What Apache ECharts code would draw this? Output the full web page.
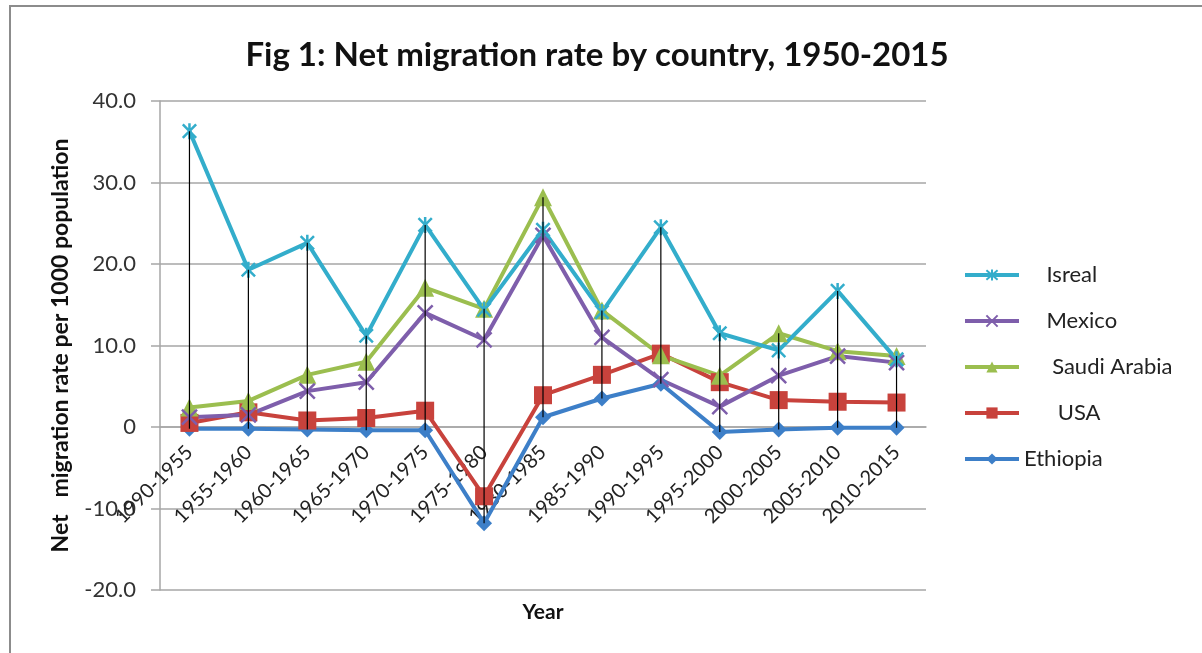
<!DOCTYPE html>
<html>
<head>
<meta charset="utf-8">
<script src="https://cdn.jsdelivr.net/npm/echarts@6/dist/echarts.min.js"></script>
<style>
  html, body { margin: 0; padding: 0; background: #fff; }
  #chart { width: 1202px; height: 653px; }
</style>
</head>
<body>
<div id="chart"></div>
<script>
// Five-year periods (the first label is kept as printed)
const periods = ['1990-1955', '1955-1960', '1960-1965', '1965-1970', '1970-1975', '1975-1980',
  '1980-1985', '1985-1990', '1990-1995', '1995-2000', '2000-2005', '2005-2010', '2010-2015'];

// Net migration rate per 1000 population
const isreal   = [36.3, 19.3, 22.6, 11.2, 24.8, 14.4, 24.2, 14.1, 24.5, 11.5, 9.4, 16.7, 8.3];
const mexico   = [1.2, 1.5, 4.4, 5.5, 14.0, 10.7, 23.5, 11.0, 5.8, 2.5, 6.3, 8.7, 7.9];
const saudi    = [2.4, 3.2, 6.4, 8.0, 17.1, 14.5, 28.2, 14.3, 8.8, 6.3, 11.5, 9.3, 8.7];
const usa      = [0.5, 1.8, 0.8, 1.1, 2.0, -8.5, 3.9, 6.4, 9.0, 5.5, 3.3, 3.1, 3.0];
const ethiopia = [-0.2, -0.2, -0.3, -0.4, -0.4, -11.8, 1.2, 3.5, 5.3, -0.6, -0.3, -0.1, -0.1];

// Value axis ticks
const yMin = -20, yMax = 40, yStep = 10;

const FONT = 'Lato, "Liberation Sans", sans-serif';

// Plot box
const GRID = { left: 160, right: 276, top: 101, bottom: 63 };
const plotHeight = 653 - GRID.top - GRID.bottom;
// The category axis crosses the value axis at zero
const zeroOffset = (0 - yMin) / (yMax - yMin) * plotHeight;

// Marker shapes drawn as strokes
const starPath  = 'path://M0,0L10,10M10,0L0,10M5,-1L5,11';
const crossPath = 'path://M0,0L10,10M10,0L0,10';

function lineSeries(name, data, color, symbol, size, stroked) {
  return {
    name: name,
    type: 'line',
    data: data,
    symbol: symbol,
    symbolSize: size,
    symbolKeepAspect: true,
    showAllSymbol: true,
    lineStyle: { color: color, width: 4 },
    itemStyle: stroked
      ? { color: 'rgba(0,0,0,0)', borderColor: color, borderWidth: 2.5 }
      : { color: color, borderWidth: 0 },
    emphasis: { disabled: true }
  };
}

// High-low lines: from the largest to the smallest value of each period
const allSeries = [isreal, mexico, saudi, usa, ethiopia];
const hiLo = periods.map((p, i) => {
  const vals = allSeries.map(s => s[i]);
  return [i, Math.min.apply(null, vals), Math.max.apply(null, vals)];
});

const legendLabels = {
  'Isreal': '    Isreal',
  'Mexico': '    Mexico',
  'Saudi Arabia': '     Saudi Arabia',
  'USA': '      USA',
  'Ethiopia': 'Ethiopia'
};

const chart = echarts.init(document.getElementById('chart'), null, { renderer: 'canvas' });
chart.setOption({
  animation: false,
  backgroundColor: '#fff',
  graphic: [{
    type: 'rect',
    shape: { x: 10, y: 6, width: 1260, height: 700 },
    style: { fill: 'none', stroke: '#8c8c8c', lineWidth: 2 },
    silent: true
  }],
  title: {
    text: 'Fig 1: Net migration rate by country, 1950-2015',
    left: 592,
    textAlign: 'center',
    top: 34,
    textStyle: { fontFamily: FONT, fontWeight: 'bold', fontSize: 33, color: '#111' }
  },
  legend: {
    orient: 'vertical',
    left: 958,
    top: 259,
    itemWidth: 54,
    itemHeight: 14,
    itemGap: 24,
    lineStyle: { width: 4 },
    data: ['Isreal', 'Mexico', 'Saudi Arabia', 'USA', 'Ethiopia'],
    formatter: n => legendLabels[n],
    textStyle: { fontFamily: FONT, fontSize: 22, color: '#222' },
    selectedMode: false
  },
  grid: Object.assign({ containLabel: false, outerBoundsMode: 'none' }, GRID),
  xAxis: {
    type: 'category',
    data: periods,
    boundaryGap: true,
    position: 'bottom',
    offset: -zeroOffset,
    z: 0,
    name: 'Year',
    nameLocation: 'middle',
    nameGap: 175,
    nameTextStyle: { fontFamily: FONT, fontWeight: 'bold', fontSize: 21, color: '#111' },
    axisLine: { onZero: false, lineStyle: { color: '#a6a6a6', width: 1.5 } },
    axisTick: { show: false },
    axisLabel: { rotate: 45, interval: 0, margin: 22, fontFamily: FONT, fontSize: 20, color: '#222' },
    splitLine: { show: false }
  },
  yAxis: {
    type: 'value',
    min: yMin,
    max: yMax,
    interval: yStep,
    name: 'Net   migration rate per 1000 population',
    nameLocation: 'middle',
    nameGap: 88,
    nameTextStyle: { fontFamily: FONT, fontWeight: 'bold', fontSize: 23, color: '#111' },
    axisLine: { show: true, lineStyle: { color: '#a6a6a6', width: 1.5 } },
    axisTick: { show: true, length: 9, lineStyle: { color: '#a6a6a6', width: 1.5 } },
    axisLabel: {
      margin: 24,
      fontFamily: FONT, fontSize: 22, color: '#333',
      formatter: v => (v === 0 ? '0' : v.toFixed(1))
    },
    splitLine: { lineStyle: { color: '#a6a6a6', width: 1.5 } }
  },
  series: [
    lineSeries('Ethiopia', ethiopia, '#3d7fc8', 'diamond', 16, false),
    lineSeries('USA', usa, '#c8423c', 'rect', 18, false),
    lineSeries('Saudi Arabia', saudi, '#9bbe4f', 'triangle', 18, false),
    lineSeries('Mexico', mexico, '#7e5eab', crossPath, 15, true),
    lineSeries('Isreal', isreal, '#33adcb', starPath, 16, true),
    {
      type: 'custom',
      name: 'high-low',
      data: hiLo,
      z: 10,
      silent: true,
      renderItem: function (params, api) {
        const top = api.coord([api.value(0), api.value(2)]);
        const bot = api.coord([api.value(0), api.value(1)]);
        return {
          type: 'line',
          shape: { x1: top[0], y1: top[1], x2: bot[0], y2: bot[1] },
          style: { stroke: '#000', lineWidth: 1.2 }
        };
      }
    }
  ]
});
</script>
</body>
</html>
